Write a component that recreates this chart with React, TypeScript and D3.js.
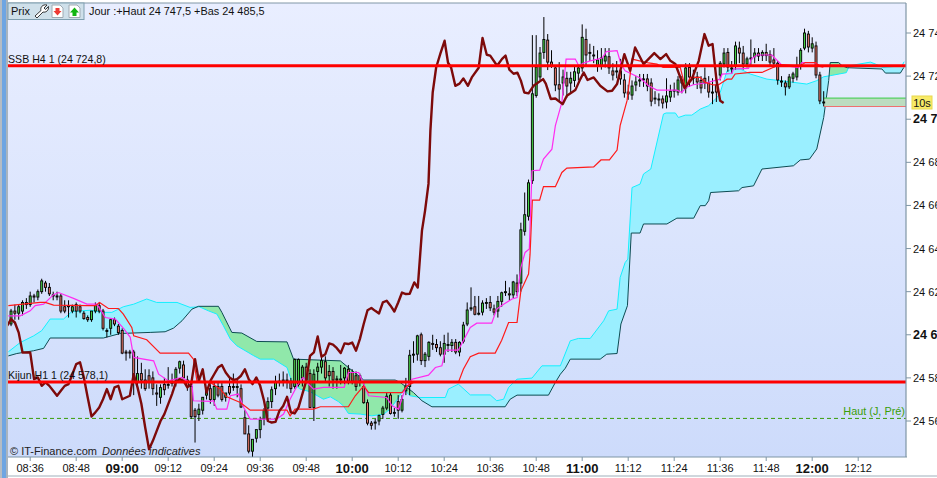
import React from "react";
import * as d3 from "d3";

// Prices are points above 24 000; minutes are counted from 08:30.
type Row = [number, number, number, number]; // open, high, low, close

const candles0830: Row[] = [
  [605,612,604,611],[611,614,607,610],[610,614,607,613],[611,616,609,615],[615,617,612,614],[614,620,613,618],
  [618,619,615,617.5],[617.5,621,616,620],[620,626,619,625],[624,625,620,622],[622,624,618,619],[618.5,620,616,618],
  [618,620,616,618],[618,619,610,611],[613,616,610,611],[613.5,616,608,613],[611,614,610,613],[614,615,608,611],
  [613,614,610,611],[610,611,607,607.5],[608,609,606,607],[607,611,606,611],[611,615,610,613.5],[613.5,615,610,611],
  [611,612,602,603],[602,603,598.8,602],[603,607.5,600,607],[607,608,604,605],[604,605,600,601],
];
const candles0900: Row[] = [
  [602,603,591,591.5],[592,593,588,591.5],[592,593,589,591.5],[592,593,572,578],[578,590,575,582],[582,587,575,579],
  [579,584,574,575],[581,584,575,578],[580,583,572,575],[573,577,567,572.5],[571,577,568,575.5],[577,580,572,574.5],
  [577,585,575,577],[578,582,576,577.5],[579,585,576,584],[584.5,588,582,587.5],[586,588,580,580],[579,581,574,576],
  [576,577,561,562],[565,566,550,562],[563,568,560,565.5],[565,571,563,571],[572,575,570,575],[575,577,568,570],
  [570,578,567,576],[576,578,571,572],[576,578,569,570],[571,573,569,573],[576,580,572,573],[576,582,574,576],
  [576,580,571,576],[575,577,566,566.5],[561.5,565,554,554],[554,558,545,546],[546,551,543,551.5],[552,556,550,556],
  [556,562,552,560.5],[561,566,558,565],[566,571,562,569],[569,576,566,574.5],[575,581,572,578],[578.5,582,576,578.5],
  [578.5,583,576,579],[579,582,575,578.5],[578.5,580,573,575],[576,589,575,588.5],[577,589,576,588.5],[580,586,576,585],
  [585,587,578,579],[582,584,566,566.3],[566.3,584,560,581.7],[583,587,578,585],[585,590,582,588],[587.5,590,578,580],
  [583,586,576,581],[583,585,575,579],[579,581,575,579.5],[579.5,586,577,579],[580,585,577,584.5],[584,586,577,578.5],
];
const candles1000: Row[] = [
  [582.5,584,577,578.5],[581,583,574,576],[581,582,576,578.5],[576,578,568,568.5],[568.5,570,558,559],[559,560,556,558],
  [559.5,561,556,559.5],[560,563,558,562.5],[563,567,561,566],[566,573,565,571.5],[572,573,563,563.5],[564,566,562,564],
  [569,572,561,565],[565,572,564,570],[574,580,572,576.2],[576,593,572,590.5],[591,597,587,591],[591,600,588,599.5],
  [600,601,586,588],[588,592,585,591],[590,597,588,596.5],[596,600,593,595.5],[595.5,598,592,594],[594,597,590,591],
  [591,600,587,596],[595.5,601,592,595.5],[595,598,592,596.5],[596.5,598,591,592],[592,597,590,596.5],[597,606,596,604.5],
  [605,615,604,611.5],[612,622,611,612.5],[613,618,609,609.5],[610,618,609,610],[610.5,616,609,614.7],[615,617,612,615],
  [615,618,611,612.5],[612,614,609,610.5],[611,618,608,615.5],[615.5,620,613,619.5],[620,625,618,620],[619,622,616,618.5],
  [618.5,625,617,624.5],[624,628,618,620],[624,652,620,648.7],[648,666,646,655.7],[655,672,653,670.5],[671.5,739,670,711.8],
  [711,739,710,724.2],[719.6,733.5,718,730.7],[731,747.4,728,737],[736.7,739.5,722.8,726.5],[726.5,732,723.8,725],[723.8,725,713,715.9],
  [716,726.5,708,714],[716.8,723,711,719.6],[719,722,710,715.4],[716.8,722,712,719],[718,725,715,722],[721.4,725,718,723.8],
];
const candles1100: Row[] = [
  [723.8,744,722,738],[737,742,725,729.8],[731,735,727,731],[729.8,734,726,729.8],[725,732,722,727.5],[725,733,723,728.4],
  [727,733,724,729.3],[729,733,721,723.8],[722.4,726,718,720.5],[722.4,727,719,722.4],[722.4,728,716,718.7],[718.2,721,710,712.2],
  [712.6,716,709,711.7],[711.2,718,709,715.4],[715.9,720,713,717.3],[718.2,721,715,718.2],[718.7,721,715,718.7],[718.7,721,713,715.4],
  [716.8,719,706,708.4],[709.8,713,707,709.8],[709.4,712,706,709.4],[709.4,711,705,707.5],[708,719,705,710.8],[710.3,716,708,713],
  [713.5,717,710,713.5],[712.6,720,711,718.2],[716.8,720,712,718.2],[714.5,726,712,723.8],[724,726,715,719.6],[719.5,723,716,719.5],
  [719.6,722,714,717.3],[718,720,712,714.5],[719,724,714,716.8],[716.8,720,710,712.6],[712.6,719,707,712.6],[715.9,719,708,712.6],
  [720.5,727,718,726],[725.6,733,724,730.7],[731,733,722,724.2],[723.8,727,721,723.8],[725,736,723,734],[733,736,726,730.7],
  [730.7,734,723,725.6],[725.6,729,724,728],[728.4,737,725,728.4],[729,733,726,730.7],[730.7,733,727,729.3],[729.5,732,727,731],
  [731,735,727,729.5],[730,732,725,726.5],[727.5,733,724,726],[726,727,716,718.2],[717.7,720,715,717.7],[716.8,718,711,715],
  [715,721,714,719.6],[719,722,717,721],[719.6,729,718,725],[724.7,733,723,732],[733,742,732,740],[739.5,741,731,733.5],
];
const candles1200: Row[] = [
  [733,738,731,735],[734,736,719,720.5],[720.5,722,707,708.5],[708,713,706,708],
];
const candleRows: Row[] = [...candles0830, ...candles0900, ...candles1000, ...candles1100, ...candles1200];

type Pt = [number, number]; // minutes after 08:30, price
const tenkan: Pt[] = [
  [.3,608.8],[3.4,608.8],[6,611.1],[7.3,613.5],[9.5,614.2],[12.1,618.6],[13.4,619.6],[17.3,616.9],[20.8,614.2],[23.4,614.2],
  [25.6,608],[28.2,607.3],[30.5,602.6],[32.1,598.8],[33,589.5],[38.2,587.9],[39.5,581.7],[42.1,578.6],[45.6,580.2],[48.2,577.1],
  [48.6,569.4],[53,569.1],[53.8,569.4],[54.7,565.5],[57.3,565.5],[58.2,571.7],[60.3,572.5],[61.7,566.3],[63.4,560.9],[70.3,560.9],
  [72.1,563.2],[73.8,570.1],[75.6,576.3],[77.2,580.2],[78.2,577.9],[79.9,574.8],[82.5,575.6],[87.9,575.6],[89,582.5],[91.7,582.5],
  [93,577.1],[94.3,571.7],[99,570.9],[100.4,567],[102.1,565.5],[103.8,574.8],[105.6,579.4],[109.9,581.3],[111.7,584.8],[113.4,585.6],
  [114.3,592.9],[117.7,592.9],[119,597.2],[120.8,603.4],[122.5,605.4],[126.4,605.4],[127.7,611.9],[129.5,614.2],[131.7,616.6],[133,617.3],
  [134,631.2],[135.1,638.2],[136.2,639.8],[136.9,676.1],[138.9,676.4],[139.9,681.5],[142.1,686.1],[143,697],[144.7,707.8],[145.8,727.9],
  [148.2,727.9],[149.1,724.8],[150.4,726.1],[152.1,727.1],[155.2,728.4],[156.3,731.4],[159.1,731.8],[160.1,725.6],[161.2,722.5],[165.1,719.1],
  [167.3,715.5],[169.5,713.5],[174.7,713.5],[176,712.4],[177.1,714.7],[179,716],[182.1,716.8],[186,718.6],[186.5,720.9],[189,721.2],
  [189.5,723.3],[193.4,723.6],[194.1,727.9],[195.6,729.8],[199.5,729.8],[202.1,725.1],[206.4,724],[207.3,726.3],[210.8,726.3],[212.1,724.5],[212.9,724.4],
];
const kijun: Pt[] = [
  [.3,613.5],[8.6,615],[9.9,615],[12.1,613.8],[21.2,613.5],[23,613.5],[24.1,615],[26.4,612.2],[29,612.2],[30.3,609.6],
  [32.5,603.4],[33,599.5],[36.4,597.7],[39.9,591.5],[47.3,591.5],[48.6,588.7],[49.5,578.6],[53,577.9],[55.6,574.8],[57.3,571.2],
  [60.8,568.6],[63.4,565],[73,565],[73.8,562.4],[75.1,565.5],[79.9,565.5],[81.7,566.6],[89,566.6],[90.8,571.7],[93,576.3],
  [94.3,573.2],[103,573.2],[104.3,576.3],[106,577.9],[117.7,577.9],[119,584],[120.8,589.8],[123,591.5],[127.3,591.5],[129,597.5],
  [130.8,605.7],[133,605.7],[134,620.4],[136,628.2],[136.4,637.4],[137,662.5],[138.9,662.5],[139.9,668.7],[143,668.7],[144.7,675.3],
  [146,677.3],[153,677.9],[154.9,681.1],[157.1,681.1],[159.1,685.7],[159.9,697],[161.7,708.6],[163,727.9],[167.3,726.1],[169.5,725.6],
  [171.1,724],[175.6,724],[176.9,714.7],[178.2,719.4],[180.8,719.4],[182.1,717.1],[184.2,715.9],[185.5,715.9],[187.8,718.6],[189,718.6],
  [189.9,721],[193.8,721.7],[196.9,721.7],[200.8,724.8],[201.7,725.3],[206.9,724.8],[208.2,726.3],[210.8,726.3],[212.1,724.5],[212.9,724.1],
];
const spanA: Pt[] = [
  [.3,592.1],[3.4,596.4],[6.9,599.5],[9,601.9],[11.2,607.3],[14.7,607.3],[16.9,610.8],[19.5,611.1],[21.7,611.4],[25.1,610.4],
  [27.3,610.4],[30.3,613],[33,614.2],[36.4,616.6],[39,615],[44.3,615],[47.7,612.7],[50.1,613],[52.5,611.1],[54.7,609.6],
  [56.4,604.2],[58.2,598],[59.9,594.9],[64.3,590.3],[66,588.7],[69.5,588.7],[73,584.8],[74.3,577.9],[76.4,574.8],[79,573.6],
  [82.5,570.1],[84.3,571.2],[86.4,569],[87.7,567],[89,563.5],[92.1,563.2],[95.1,562.4],[98.2,563.2],[99.9,565.5],[102.1,570.9],
  [103.4,574.8],[105.1,571.7],[107.7,570.9],[114.3,570.9],[115.1,574.8],[117.7,577.1],[120.8,572.1],[126,572.1],[127.7,569.4],[129.5,570.1],
  [130.8,575.6],[133,579.4],[136.9,579.9],[139.5,585.6],[144.3,585.6],[146.9,597.2],[149,598.3],[152.1,598.3],[155.6,606.5],[156.9,611.1],
  [159.1,611.9],[159.9,626.6],[161.2,633.5],[161.9,635.1],[163,668.3],[165.1,669.9],[166,674.6],[167.9,676.9],[171.2,702.4],[171.9,702.9],
  [174.3,702.9],[175.1,700.8],[176.9,701.9],[178.6,701.9],[180.8,704.7],[183,706.3],[185.2,710.1],[186,712.4],[187.8,722.5],[189.5,723.3],
  [191.2,723.3],[193.8,721],[198.2,718.6],[201.7,717.9],[208.6,716.3],[211.2,717.9],[213,719.7],[214.7,720.2],[218.9,721.6],[219.7,724.8],
  [225.2,726.5],[226.5,725.6],[228.5,724],[233.4,724.8],[234,726.7],
];
const spanB: Pt[] = [
  [.3,590.2],[2.5,591.3],[6.9,592.6],[9.5,593.7],[11.2,598.5],[25.1,598.5],[29.5,600.6],[37.3,601.1],[41.2,601.4],[43.4,603.1],
  [45.6,606.5],[48.2,611.9],[49.9,613.2],[55.1,613.2],[56,610.4],[58.6,601.1],[61.2,600.8],[65.1,596.9],[73,596.7],[74.7,588.7],
  [86.9,587.9],[89,584.8],[91.7,581],[93,579],[101.2,579],[102.5,577.9],[106,573.2],[108.2,569.4],[110.8,566.6],[129.9,566.6],
  [131.2,570.1],[133,572],[141.2,572],[143,577.9],[144.3,581.7],[145.6,584.5],[146.9,588.7],[154.7,588.7],[156.4,591],[159.1,591.3],
  [160.1,605],[161.8,613.5],[162.8,647.2],[165.1,647.2],[166,651.4],[172.1,651.4],[174.7,654.1],[179.1,654.1],[180.8,659.9],[182.1,659.9],
  [183,662.2],[183.5,666],[190.8,666.8],[191.7,668.3],[194.7,669.1],[196.9,676.9],[205.1,678.4],[206.9,681.1],[209.3,681.5],[211.2,686.2],
  [213,700.8],[214.3,717.9],[214.7,726.3],[216.9,726.3],[217.8,724.8],[219.1,723.9],[228.2,723.3],[229.1,721.4],[233,721.4],[233.9,724],
];
const chikou: Pt[] = [
  [0,604.2],[1,607.3],[2,605.7],[3,601],[4,591.8],[5,591.8],[6,591.8],[7,579.4],[8,580.2],[9,576.3],[10,577.9],[11,576.3],[12,574],
  [13,571.7],[14,574],[15,576.3],[16,577.1],[17,581.7],[18,586.4],[19,587.2],[20,580.2],[21,570.9],[22,562.1],[23,564],[24,566.3],
  [25,570.1],[26,574.8],[27,570.1],[28,575.6],[29,576.3],[30,570.1],[31,570.9],[32,571.7],[33,581.7],[34,575.6],[35,568],[36,557],[37,546.9],
  [38,550.8],[39,555.4],[40,560],[41,563.2],[42,567.8],[43,572.5],[44,577.9],[45,579.4],[46,578.6],[47,575.6],[48,577.1],[49,588.7],
  [50,578.6],[51,584],[52,573.2],[53,578.6],[54,581.7],[55,584.8],[56,586],[57,582.5],[58,580.2],[59,579],[60,579.4],[61,581],[62,584],
  [63,579.4],[64,577.1],[65,580.2],[66,576.3],[67,569.4],[68,560],[69,559.3],[70,559.6],[71,564.7],[72,567],[73,571.2],[74,564],[75,563.5],
  [76,566.3],[77,572.5],[78,578.6],[79,590.2],[80,591.8],[81,599.2],[82,589.8],[83,591],[84,596],[85,595.4],[86,593.8],[87,591.5],[88,596],
  [89,595.7],[90,596.4],[91,592.6],[92,598],[93,605],[94,611.4],[95,612.4],[96,611.1],[97,609.9],[98,615],[99,615.8],[100,613.5],[101,610.8],
  [102,615],[103,619.6],[104,618.9],[105,619],[106.2,624.3],[107.1,621.9],[108.2,648.3],[109,657.5],[109.9,670],[110.4,694.7],[111,712.4],
  [111.9,724],[113,730.4],[114.1,736.4],[115,726.2],[115.8,724],[116.9,715.5],[118,716.5],[119,718.9],[120.2,715.5],[121.2,719.4],[123,723.9],
  [124,737.7],[125.1,729.9],[126,729.5],[127.8,724.8],[129.1,728],[130,729.5],[131,723],[132.1,721.1],[133.1,721.6],[134,717.9],[134.9,712.4],
  [136,712],[137.3,715.5],[139.8,718.6],[140.5,716.5],[141.8,709.4],[143,709.6],[144.9,707],[146,710.9],[148.2,713.5],[149.5,718.6],[150.4,721.7],
  [151.4,718.2],[153,719.4],[154.7,715.5],[156.6,712.9],[157.8,713.2],[159.1,716.3],[161,730.2],[162.5,722.5],[163.8,733.3],[166,725.6],[168.8,730.7],
  [170.4,727.9],[171.9,730.2],[173,727.1],[174.3,725.6],[175.6,719.4],[176.7,714.5],[178.6,718.6],[180.4,727.1],[181.9,739.5],[183,734.1],[184,734.9],
  [185,718.6],[186,708.6],[186.9,707.5],
];

const ssbH4 = 724.8;
const kijunH1 = 578.1;
const hautPre = 561.2;
const bandHigh = 709.8;
const bandLow = 705.9;
const bandStart = 213;

const yTicks = [740, 720, 700, 680, 660, 640, 620, 600, 580, 560];
const yTickLabels = ["24 74", "24 72", "24 7", "24 68", "24 66", "24 64", "24 62", "24 6", "24 58", "24 56"];
const boldPrices = [700, 600];
const xTickLabels = ["08:36","08:48","09:00","09:12","09:24","09:36","09:48","10:00","10:12","10:24","10:36","10:48","11:00","11:12","11:24","11:36","11:48","12:00","12:12"];
const xTickMinutes = [6,18,30,42,54,66,78,90,102,114,126,138,150,162,174,186,198,210,222];
const boldTimes = ["09:00","10:00","11:00","12:00"];

const L = 8, R = 906, T = 3, B = 457;
const x = d3.scaleLinear().domain([0, 234]).range([7.2, 7.2 + 234 * 3.8333]);
const y = d3.scaleLinear().domain([560, 740]).range([421, 33]);

const FONT = "'Liberation Sans', Arial, sans-serif";

const linePath = d3.line<Pt>().x((d) => x(d[0])).y((d) => y(d[1]));
const areaTo = (edge: number) => d3.area<Pt>().x((d) => x(d[0])).y0(edge).y1((d) => y(d[1]));

export default function App() {
  const up = (rows: Pt[]) => areaTo(T)(rows) as string;
  const down = (rows: Pt[]) => areaTo(B)(rows) as string;
  return (
    <svg width={937} height={478} viewBox="0 0 937 478" style={{ position: "fixed", left: 0, top: 0, background: "#fff" }} fontFamily={FONT}>
      <defs>
        <linearGradient id="bg" x1="0" y1="0" x2="0" y2="1">
          <stop offset="0" stopColor="#e9eeff" />
          <stop offset="1" stopColor="#cddbfb" />
        </linearGradient>
        <clipPath id="plot"><rect x={L} y={T} width={R - L} height={B - T} /></clipPath>
        <clipPath id="aboveB"><path d={up(spanB)} /></clipPath>
        <clipPath id="aboveA"><path d={up(spanA)} /></clipPath>
      </defs>

      <rect x={0} y={0} width={2} height={478} fill="#b4bcc4" />
      <rect x={2} y={0} width={4} height={478} fill="#6ea5e2" />
      <rect x={6} y={0} width={2} height={478} fill="#a8b4bf" />
      <rect x={L} y={T} width={R - L} height={B - T} fill="url(#bg)" />

      <g clipPath="url(#plot)">
        <path d={down(spanA)} fill="#9aefff" clipPath="url(#aboveB)" />
        <path d={down(spanB)} fill="#90e8aa" clipPath="url(#aboveA)" />
        <path d={linePath(spanA) as string} fill="none" stroke="#14f0ff" strokeWidth={1} />
        <path d={linePath(spanB) as string} fill="none" stroke="#0d4b52" strokeWidth={1} />

        {/* pending candle band */}
        <rect x={x(bandStart)} y={y(bandHigh)} width={R - x(bandStart)} height={y(bandLow) - y(bandHigh)} fill="#bcdcc0" />
        <line x1={x(bandStart)} x2={R} y1={y(bandHigh)} y2={y(bandHigh)} stroke="#55d060" strokeWidth={1.4} />
        <line x1={x(bandStart)} x2={R} y1={y(bandLow)} y2={y(bandLow)} stroke="#ee7070" strokeWidth={1} />

        <line x1={L} x2={R} y1={y(hautPre)} y2={y(hautPre)} stroke="#3a9e08" strokeWidth={1} strokeDasharray="4 3" />

        {candleRows.map(([o, h, l, c], i) => {
          const cx = x(i + 1);
          const top = y(Math.max(o, c));
          const bot = y(Math.min(o, c));
          return (
            <g key={i}>
              <line x1={cx} x2={cx} y1={y(h)} y2={y(l)} stroke="#000" strokeWidth={1} />
              <rect x={cx - 1} y={top} width={2} height={Math.max(bot - top, 1)} fill={c >= o ? "#45d045" : "#e8786a"} stroke="#000" strokeWidth={0.9} />
            </g>
          );
        })}

        <path d={linePath(tenkan) as string} fill="none" stroke="#ff2cf0" strokeWidth={1.2} />
        <path d={linePath(kijun) as string} fill="none" stroke="#ff1a1a" strokeWidth={1.2} />
        <path d={linePath(chikou) as string} fill="none" stroke="#7d0a0a" strokeWidth={2.4} strokeLinejoin="round" />

        <line x1={L} x2={R} y1={y(ssbH4)} y2={y(ssbH4)} stroke="#ff0000" strokeWidth={3} />
        <line x1={L} x2={R} y1={y(kijunH1)} y2={y(kijunH1)} stroke="#ff0000" strokeWidth={3} />
      </g>

      {/* frame */}
      <line x1={L} x2={R} y1={T} y2={T} stroke="#8096a6" />
      <line x1={R} x2={R} y1={T} y2={B} stroke="#7f95a5" strokeWidth={1.2} />
      <line x1={L} x2={R + 1} y1={B} y2={B} stroke="#7f95a5" strokeWidth={1.2} />
      <line x1={8} x2={937} y1={476} y2={476} stroke="#9fb0bc" strokeWidth={1.2} />

      {/* price axis */}
      {yTicks.map((p, i) => {
        const bold = boldPrices.includes(p);
        return (
          <g key={p}>
            <line x1={R} x2={R + 5} y1={y(p)} y2={y(p)} stroke="#7f95a5" />
            <text x={913} y={y(p) + 4} fontSize={bold ? 12.5 : 11} fontWeight={bold ? 700 : 400} fill="#111">
              {yTickLabels[i]}
            </text>
          </g>
        );
      })}

      {/* time axis */}
      {xTickLabels.map((label, i) => {
        const bold = boldTimes.includes(label);
        return (
          <g key={label}>
            <line x1={x(xTickMinutes[i])} x2={x(xTickMinutes[i])} y1={B} y2={B + 4} stroke="#7f95a5" />
            <text x={x(xTickMinutes[i])} y={bold ? 473 : 472} textAnchor="middle" fontSize={bold ? 13 : 11} fontWeight={bold ? 700 : 400} fill="#111">{label}</text>
          </g>
        );
      })}

      {/* toolbar */}
      <rect x={8} y={3} width={76} height={16.5} fill="#cfe0ea" stroke="#7f9fb0" />
      <text x={11} y={14.5} fontSize={11} fill="#111">Prix</text>
      <path d="M35 16 L41 10.5 C40 7.5 42.5 4 47 5 L44 8 L45.5 9.5 L48.5 6.5 C49 10.5 45.8 12.8 43 12 L37 18 Z" fill="#fff" stroke="#222" strokeWidth={0.9} />
      <path d="M52 5 H60 L63 8 V17.5 H52 Z" fill="#fff" stroke="#a0aab2" />
      <path d="M55.5 8 H59.5 V11 H61.5 L57.5 15.5 L53.5 11 H55.5 Z" fill="#ee3a34" />
      <path d="M69 5 H77 L80 8 V17.5 H69 Z" fill="#fff" stroke="#a0aab2" />
      <path d="M72.5 16 H76.5 V12.5 H79 L74.5 7.5 L70 12.5 H72.5 Z" fill="#12b512" />
      <text x={89} y={15} fontSize={10.9} fill="#111">Jour :+Haut 24 747,5 +Bas 24 485,5</text>

      {/* annotations */}
      <text x={8} y={63} fontSize={10.6} fill="#111">SSB H4 1 (24 724,8)</text>
      <text x={8} y={379} fontSize={10.6} fill="#111">Kijun H1 1 (24 578,1)</text>
      <text x={905} y={414.5} textAnchor="end" fontSize={10.9} fill="#3a9e08">Haut (J, Pré)</text>
      <text x={10} y={455} fontSize={11} fill="#222">© IT-Finance.com <tspan fontStyle="italic" dx={2}>Données indicatives</tspan></text>

      <rect x={912} y={96} width={20} height={13} fill="#f8ea68" stroke="#e8d84c" />
      <text x={922} y={106.5} textAnchor="middle" fontSize={11} fill="#111">10s</text>
    </svg>
  );
}
